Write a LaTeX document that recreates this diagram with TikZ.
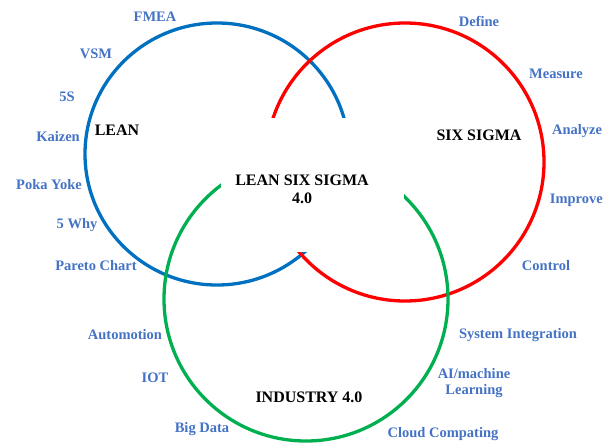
\documentclass[tikz,border=0pt]{standalone}
\usepackage{fontspec}
\setmainfont{Liberation Serif}
\begin{document}
\begin{tikzpicture}[x=1pt,y=-1pt,
  ring/.style={line width=3.3pt},
  tool/.style={font=\bfseries\fontsize{14.5}{16}\selectfont, text=lblue, inner sep=0pt, align=center},
  title/.style={font=\bfseries\fontsize{16}{18}\selectfont, text=black, inner sep=0pt, align=center}]
\definecolor{lblue}{HTML}{4472C4}
\definecolor{cblue}{HTML}{0070C0}
\definecolor{cred}{HTML}{FF0000}
\definecolor{cgreen}{HTML}{00B050}
\useasboundingbox (0,0) rectangle (604,445);
% circles
\draw[ring, cblue] (217,154) ellipse [x radius=132, y radius=131];
\draw[ring, cred] (405,162) ellipse [x radius=139, y radius=139];
\draw[ring, cgreen] (306,299) ellipse [x radius=142, y radius=142];
% central white panel
\fill[white] (221,118) rectangle (404,252);
% titles
\node[title] (lean) at (117,130) {LEAN};
\node[title] (six) at (479,135) {SIX SIGMA};
\node[title] (lss) at (302,189) {LEAN SIX SIGMA\\4.0};
\node[title] (ind) at (309,397) {INDUSTRY 4.0};
% lean tools
\node[tool] (fmea) at (155,17) {FMEA};
\node[tool] (vsm) at (96,54) {VSM};
\node[tool] (fives) at (67,97) {5S};
\node[tool] (kaizen) at (58,137) {Kaizen};
\node[tool] (poka) at (49,185) {Poka Yoke};
\node[tool] (why) at (77,225) {5 Why};
\node[tool] (pareto) at (96,266) {Pareto Chart};
% six sigma
\node[tool] (define) at (479,21) {Define};
\node[tool] (measure) at (556,74) {Measure};
\node[tool] (analyze) at (577,131) {Analyze};
\node[tool, anchor=east] (improve) at (603,200) {Improve};
\node[tool] (control) at (546,266) {Control};
% industry 4.0
\node[tool] (auto) at (125,335) {Automotion};
\node[tool] (iot) at (155,378) {IOT};
\node[tool] (bigdata) at (202,429) {Big Data};
\node[tool] (sysint) at (518,335) {System Integration};
\node[tool] (ai) at (474,383) {AI/machine\\Learning};
\node[tool] (cloud) at (443,434) {Cloud Compating};
\end{tikzpicture}
\end{document}
